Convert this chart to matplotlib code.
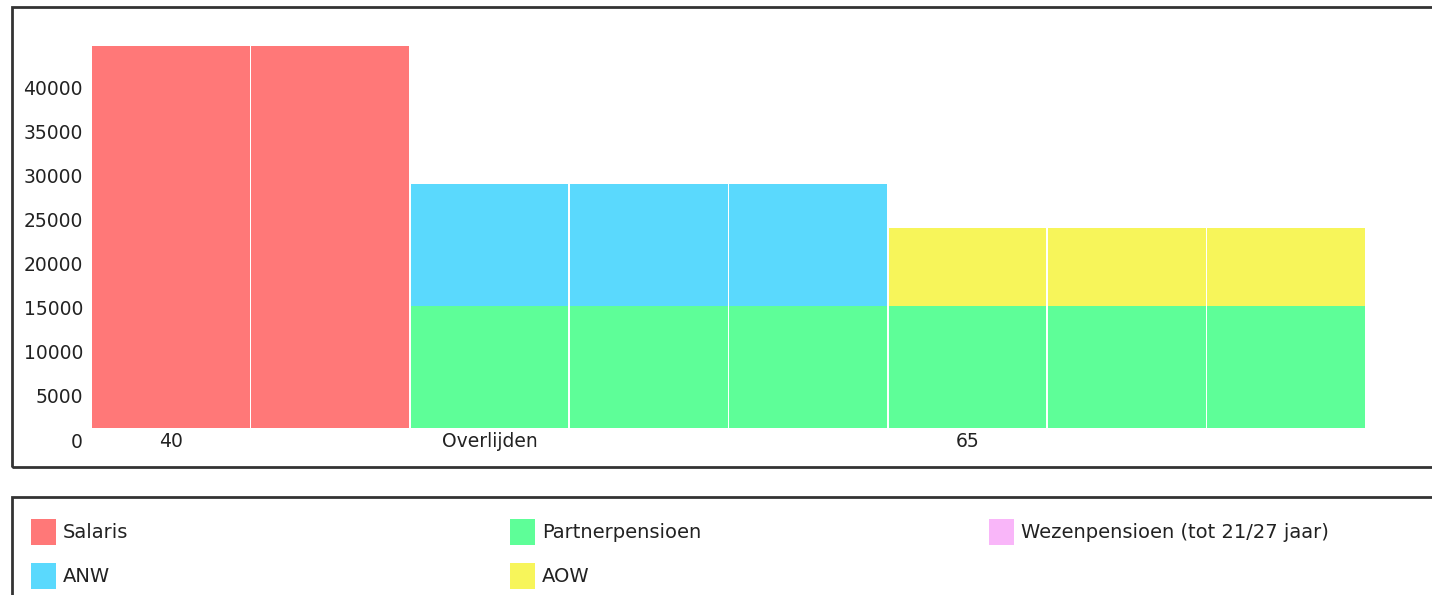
import matplotlib
matplotlib.use('Agg')
import matplotlib.pyplot as plt
from matplotlib.patches import Rectangle
from matplotlib.transforms import ScaledTranslation
import numpy as np

# Data
x_labels = ['40', '', 'Overlijden', '', '', '65', '', '']
salaris = [43300, 43300, 0, 0, 0, 0, 0, 0]
partnerpensioen = [0, 0, 13870, 13870, 13870, 13870, 13870, 13870]
anw = [0, 0, 13790, 13790, 13790, 0, 0, 0]
aow = [0, 0, 0, 0, 0, 8770, 8770, 8770]
wezenpensioen = [0, 0, 0, 0, 0, 0, 0, 0]
y_ticks = [0, 5000, 10000, 15000, 20000, 25000, 30000, 35000, 40000]

colors = {'Salaris': '#FF7878', 'ANW': '#5AD9FD', 'Partnerpensioen': '#5EFE98',
          'AOW': '#F7F55A', 'Wezenpensioen (tot 21/27 jaar)': '#F9B6F9'}

plt.rcParams['font.family'] = ['DejaVu Sans']

W, H = 1432, 595
fig = plt.figure(figsize=(W / 100, H / 100), dpi=100)
fig.patch.set_facecolor('white')

def fx(px):
    return px / W

def fy(py):
    return 1 - py / H

# plot area: bars from x=91 to 1366, baseline at y=428
ax = fig.add_axes([fx(91), fy(428), fx(1366) - fx(91), fy(20) - fy(428)])
ax.set_xlim(-0.5, 7.5)
ax.set_ylim(0, 408 / 0.00882)

x = np.arange(len(x_labels))
bar_kw = dict(width=0.99, linewidth=0)
ax.bar(x, salaris, color=colors['Salaris'], **bar_kw)
ax.bar(x, partnerpensioen, color=colors['Partnerpensioen'], **bar_kw)
ax.bar(x, anw, bottom=partnerpensioen, color=colors['ANW'], **bar_kw)
ax.bar(x, aow, bottom=partnerpensioen, color=colors['AOW'], **bar_kw)

for s in ax.spines.values():
    s.set_visible(False)
ax.set_xticks(x)
ax.set_xticklabels(x_labels, fontsize=13.5, color='#222222')
ax.tick_params(axis='x', length=0, pad=3)
ax.set_yticks(y_ticks)
ax.set_yticklabels([])
ax.tick_params(axis='y', length=0)

# y labels sit a little below their value, as in the original
shift = ax.get_yaxis_transform() + ScaledTranslation(-8 / 100, -14 / 100, fig.dpi_scale_trans)
for v in y_ticks:
    ax.text(0, v, str(v), transform=shift, ha='right', va='center', fontsize=13.5,
            color='#222222', clip_on=False)

# frames
fig.add_artist(Rectangle((fx(12), fy(467)), fx(1440) - fx(12), fy(7) - fy(467),
                         transform=fig.transFigure, fill=False, edgecolor='#333333', linewidth=2))
fig.add_artist(Rectangle((fx(12), fy(610)), fx(1440) - fx(12), fy(497) - fy(610),
                         transform=fig.transFigure, fill=False, edgecolor='#333333', linewidth=2))

# legend
for i, (name, c) in enumerate(colors.items()):
    col, row = i // 2, i % 2
    px, py = 31 + col * 479, 519 + row * 44
    fig.add_artist(Rectangle((fx(px), fy(py + 26)), fx(25), 26 / H,
                             transform=fig.transFigure, facecolor=c, edgecolor='none'))
    fig.text(fx(px + 32), fy(py + 13), name, ha='left', va='center', fontsize=14,
             color='#222222')

fig.savefig('out.png', dpi=100, facecolor='white')
